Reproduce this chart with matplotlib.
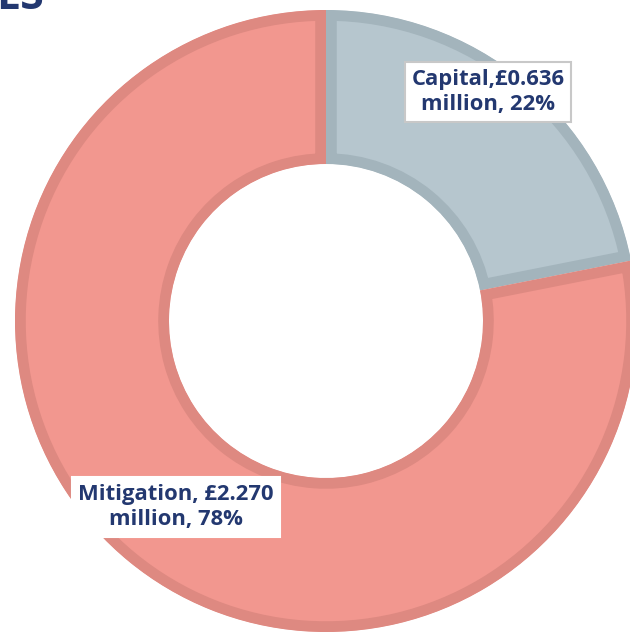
import matplotlib
matplotlib.use("Agg")
import matplotlib.pyplot as plt

# Spend split (GBP million)
categories = ["Capital", "Mitigation"]
values = [0.636, 2.270]
separators = [",", ", "]

fill_colors = ["#B6C6CE", "#F2978F"]
edge_colors = ["#A3B4BC", "#DE8981"]
text_color = "#233870"

W, H = 630, 635
fig = plt.figure(figsize=(W / 100, H / 100), dpi=100)
ax = fig.add_axes([0, 0, 1, 1])

cx, cy = 326, H - 321
r_out, r_in = 311, 157

wedges, _ = ax.pie(
    values,
    startangle=90,
    counterclock=False,
    colors=fill_colors,
    radius=r_out,
    center=(cx, cy),
    wedgeprops=dict(width=r_out - r_in, linewidth=15.5, joinstyle="miter"),
)

ax.set_xlim(0, W)
ax.set_ylim(0, H)
ax.set_aspect("auto")
ax.axis("off")

# inner stroke: each wedge's edge is clipped to the wedge's own outline
for w, ec in zip(wedges, edge_colors):
    w.set_edgecolor(ec)
    w.set_clip_on(True)
    w.set_clip_path(w.get_path(), ax.transData)

total = sum(values)
label_pos = [(488, H - 92), (176, H - 507)]
box_edges = ["#C8C8C8", "white"]
for cat, v, sep, (lx, ly), be in zip(categories, values, separators, label_pos, box_edges):
    pct = 100 * v / total
    txt = f"{cat}{sep}£{v:.3f}\nmillion, {pct:.0f}%"
    ax.text(
        lx, ly, txt, ha="center", va="center", multialignment="center",
        fontsize=15.8, fontweight="bold", family="Open Sans", color=text_color,
        linespacing=1.3,
        bbox=dict(boxstyle="square,pad=0.28", facecolor="white", edgecolor=be, linewidth=1.5),
    )

# tail end of the page heading above the chart
fig.text(-4 / W, 1 - 9 / H, "ES", ha="left", va="baseline", fontsize=31,
         fontweight="bold", family="Open Sans", color=text_color)

fig.savefig("out.png", dpi=100)
